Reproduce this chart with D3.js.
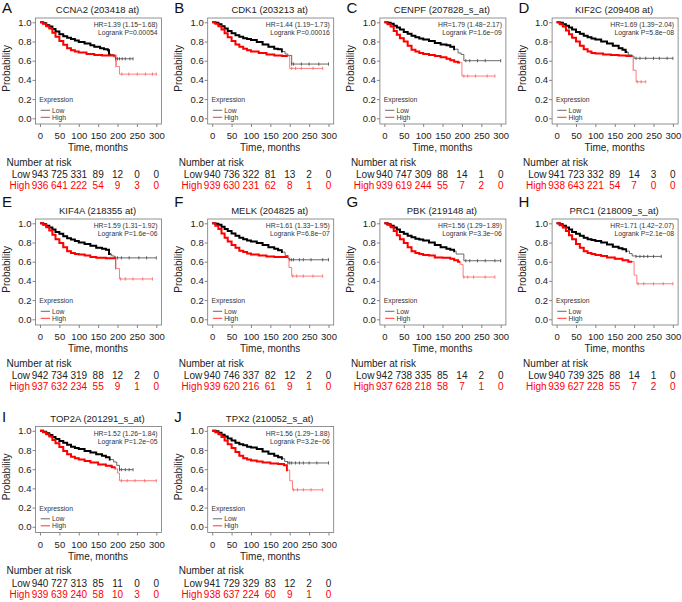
<!DOCTYPE html>
<html><head><meta charset="utf-8">
<script src="https://cdn.jsdelivr.net/npm/d3@7"></script>
<style>
body{margin:0;background:#fff}
svg{display:block}
text{font-family:"Liberation Sans",Arial,Helvetica,sans-serif}
</style>
</head><body>
<svg id="c" width="682" height="602"></svg>
<script>
// ---------- data ----------
const letters = ["A","B","C","D","E","F","G","H","I","J"];
const genes = ["CCNA2 (203418 at)","CDK1 (203213 at)","CENPF (207828_s_at)","KIF2C (209408 at)",
  "KIF4A (218355 at)","MELK (204825 at)","PBK (219148 at)","PRC1 (218009_s_at)",
  "TOP2A (201291_s_at)","TPX2 (210052_s_at)"];
const hrLabels = ["HR=1.39 (1.15\u22121.68)","HR=1.44 (1.19\u22121.73)","HR=1.79 (1.48\u22122.17)","HR=1.69 (1.39\u22122.04)",
  "HR=1.59 (1.31\u22121.92)","HR=1.61 (1.33\u22121.95)","HR=1.56 (1.29\u22121.89)","HR=1.71 (1.42\u22122.07)",
  "HR=1.52 (1.26\u22121.84)","HR=1.56 (1.29\u22121.88)"];
const pLabels = ["Logrank P=0.00054","Logrank P=0.00016","Logrank P=1.6e\u221209","Logrank P=5.8e\u221208",
  "Logrank P=1.6e\u221206","Logrank P=6.8e\u221207","Logrank P=3.3e\u221206","Logrank P=2.1e\u221208",
  "Logrank P=1.2e\u221205","Logrank P=3.2e\u221206"];
const timeTicks = [0,50,100,150,200,250,300];
const probTicks = [0,0.2,0.4,0.6,0.8,1.0];
const riskLow = [
  [943,725,331,89,12,0,0],[940,736,322,81,13,2,0],[940,747,309,88,14,1,0],[941,723,332,89,14,3,0],
  [942,734,319,88,12,2,0],[940,746,337,82,12,2,0],[942,738,335,85,14,2,0],[940,739,325,88,14,1,0],
  [940,727,313,85,11,0,0],[941,729,329,83,12,2,0]];
const riskHigh = [
  [936,641,222,54,9,3,0],[939,630,231,62,8,1,0],[939,619,244,55,7,2,0],[938,643,221,54,7,0,0],
  [937,632,234,55,9,1,0],[939,620,216,61,9,1,0],[937,628,218,58,7,1,0],[939,627,228,55,7,2,0],
  [939,639,240,58,10,3,0],[938,637,224,60,9,1,0]];

// survival step points [months, probability]
const lowCurves = [
  [[0,1],[8,0.99],[16,0.97],[24,0.955],[32,0.93],[40,0.905],[50,0.875],[60,0.855],[70,0.84],[80,0.825],[90,0.81],[100,0.795],[115,0.78],[130,0.76],[140,0.745],[155,0.73],[165,0.72],[175,0.71],[178,0.665],[190,0.64],[195,0.62],[240,0.62]],
  [[0,1],[8,0.995],[16,0.98],[24,0.96],[32,0.935],[40,0.91],[50,0.885],[60,0.865],[70,0.85],[80,0.835],[90,0.825],[100,0.815],[115,0.795],[130,0.77],[145,0.745],[160,0.725],[170,0.72],[180,0.695],[188,0.67],[195,0.655],[205,0.565],[300,0.565]],
  [[0,1],[8,0.995],[16,0.985],[24,0.965],[32,0.945],[40,0.925],[50,0.9],[60,0.88],[70,0.86],[80,0.845],[90,0.83],[100,0.82],[115,0.805],[130,0.785],[145,0.77],[160,0.76],[170,0.745],[180,0.72],[190,0.68],[198,0.665],[205,0.6],[300,0.6]],
  [[0,1],[8,0.995],[16,0.98],[24,0.965],[32,0.945],[40,0.925],[50,0.9],[60,0.88],[70,0.86],[80,0.845],[90,0.83],[100,0.82],[115,0.8],[130,0.78],[145,0.755],[160,0.73],[170,0.715],[178,0.69],[185,0.66],[195,0.645],[200,0.625],[300,0.625]],
  [[0,1],[8,0.99],[16,0.975],[24,0.955],[32,0.935],[40,0.91],[50,0.89],[60,0.865],[70,0.845],[80,0.83],[90,0.815],[100,0.8],[115,0.785],[130,0.765],[145,0.745],[160,0.735],[170,0.725],[178,0.68],[185,0.66],[192,0.64],[300,0.64]],
  [[0,1],[8,0.995],[16,0.985],[24,0.965],[32,0.94],[40,0.92],[50,0.895],[60,0.87],[70,0.85],[80,0.835],[90,0.82],[100,0.81],[115,0.795],[130,0.775],[145,0.75],[160,0.735],[170,0.72],[180,0.7],[188,0.665],[196,0.63],[200,0.62],[300,0.62]],
  [[0,1],[8,0.99],[16,0.975],[24,0.955],[32,0.935],[40,0.91],[50,0.89],[60,0.87],[70,0.855],[80,0.84],[90,0.83],[100,0.82],[115,0.8],[130,0.775],[145,0.75],[160,0.735],[170,0.725],[180,0.71],[185,0.68],[205,0.61],[300,0.61]],
  [[0,1],[8,0.99],[16,0.975],[24,0.955],[32,0.935],[40,0.91],[50,0.89],[60,0.87],[70,0.85],[80,0.835],[90,0.825],[100,0.815],[115,0.8],[130,0.78],[145,0.755],[160,0.74],[170,0.73],[180,0.71],[188,0.685],[195,0.66],[205,0.655],[270,0.655]],
  [[0,1],[8,0.99],[16,0.975],[24,0.955],[32,0.935],[40,0.915],[50,0.895],[60,0.875],[70,0.855],[80,0.835],[90,0.82],[100,0.81],[115,0.79],[130,0.775],[145,0.755],[160,0.74],[170,0.725],[180,0.7],[190,0.675],[198,0.64],[205,0.595],[240,0.595]],
  [[0,1],[8,0.995],[16,0.98],[24,0.96],[32,0.94],[40,0.92],[50,0.9],[60,0.875],[70,0.86],[80,0.85],[90,0.835],[100,0.825],[115,0.81],[130,0.785],[145,0.76],[160,0.74],[170,0.725],[180,0.71],[187,0.68],[195,0.665],[300,0.665]]
];
const highCurves = [
  [[0,1],[8,0.985],[16,0.96],[24,0.935],[32,0.89],[40,0.85],[50,0.805],[60,0.765],[70,0.73],[80,0.71],[90,0.695],[100,0.685],[120,0.67],[140,0.66],[160,0.655],[197,0.54],[205,0.46],[300,0.46]],
  [[0,1],[8,0.985],[16,0.96],[24,0.925],[32,0.885],[40,0.845],[50,0.805],[60,0.77],[70,0.745],[80,0.725],[90,0.71],[100,0.695],[120,0.68],[140,0.665],[160,0.655],[180,0.65],[200,0.52],[285,0.52]],
  [[0,1],[8,0.98],[16,0.955],[24,0.91],[32,0.87],[40,0.835],[50,0.8],[60,0.755],[70,0.715],[80,0.695],[90,0.68],[100,0.67],[115,0.66],[130,0.65],[145,0.635],[160,0.62],[170,0.605],[180,0.59],[190,0.58],[200,0.44],[285,0.44]],
  [[0,1],[8,0.98],[16,0.955],[24,0.915],[32,0.875],[40,0.84],[50,0.8],[60,0.755],[70,0.72],[80,0.695],[90,0.68],[100,0.675],[120,0.665],[140,0.66],[160,0.655],[180,0.65],[198,0.5],[205,0.38],[230,0.38]],
  [[0,1],[8,0.985],[16,0.96],[24,0.925],[32,0.88],[40,0.835],[50,0.795],[60,0.75],[70,0.71],[80,0.69],[90,0.68],[100,0.675],[115,0.665],[130,0.65],[145,0.64],[170,0.635],[196,0.53],[205,0.42],[290,0.42]],
  [[0,1],[8,0.975],[16,0.94],[24,0.895],[32,0.85],[40,0.81],[50,0.775],[60,0.745],[70,0.715],[80,0.7],[90,0.685],[100,0.675],[120,0.665],[140,0.655],[160,0.65],[180,0.65],[198,0.54],[205,0.45],[285,0.45]],
  [[0,1],[8,0.985],[16,0.96],[24,0.92],[32,0.875],[40,0.835],[50,0.795],[60,0.75],[70,0.71],[80,0.69],[90,0.68],[100,0.67],[115,0.665],[130,0.645],[150,0.64],[170,0.63],[180,0.615],[190,0.6],[197,0.57],[203,0.44],[285,0.44]],
  [[0,1],[8,0.98],[16,0.955],[24,0.92],[32,0.875],[40,0.835],[50,0.785],[60,0.745],[70,0.71],[80,0.69],[90,0.68],[100,0.67],[115,0.66],[130,0.645],[150,0.63],[170,0.615],[185,0.6],[200,0.46],[207,0.37],[300,0.37]],
  [[0,1],[8,0.985],[16,0.965],[24,0.94],[32,0.905],[40,0.87],[50,0.83],[60,0.79],[70,0.755],[80,0.73],[90,0.715],[100,0.7],[115,0.685],[130,0.67],[150,0.65],[170,0.635],[185,0.62],[195,0.605],[200,0.56],[205,0.48],[300,0.48]],
  [[0,1],[8,0.985],[16,0.965],[24,0.935],[32,0.9],[40,0.86],[50,0.82],[60,0.78],[70,0.74],[80,0.715],[90,0.7],[100,0.69],[115,0.68],[130,0.67],[150,0.66],[170,0.655],[185,0.64],[193,0.59],[200,0.48],[207,0.385],[285,0.385]]
];
// censoring marks on the sparse tails (months)
const lowCensor = [
  [195,200,205,212,220,232,240],[205,210,230,250,275,300],[210,220,240,260,300],[205,215,230,250,265,285,300],
  [195,200,210,230,255,275,300],[200,205,210,225,235,255,285,300],[210,220,240,260,285,300],[205,215,225,235,250,270],
  [205,210,220,230,240],[195,200,205,215,225,235,250,270,300]];
const highCensor = [
  [211,229,251,272,290,300],[205,215,230,260,285],[205,215,235,265,285],[208,218,230],
  [208,220,240,265,290],[208,218,235,260,285],[205,215,230,260,285],[210,225,250,275,300],
  [210,225,245,270,300],[210,220,235,255,285]];
const lowDenseEnd = 182, highDenseEnd = 195;

// ---------- layout ----------
const svg = d3.select("#c");
const colX = [0,172.2,344.4,516.6];
const rowY = [0,201,408.5];
const letterBase = [12.7,206.7,421.7];
const RED = "#ff0000";

genes.forEach((gene,i)=>{
  const col=i%4, row=Math.floor(i/4);
  const ox=colX[col], oy=rowY[row];
  const g = svg.append("g").attr("transform",`translate(${ox},${oy})`);
  const bx0=35.5,bx1=161.5,by0=18,by1=124;
  const x=d3.scaleLinear().domain([0,300]).range([40,156.3]);
  const y=d3.scaleLinear().domain([0,1]).range([118.3,22.3]);

  // letter
  svg.append("text").attr("x",ox+2).attr("y",letterBase[row]).attr("font-size",15).attr("fill","#111").text(letters[i]);
  // title
  g.append("text").attr("x",97.5).attr("y",13).attr("text-anchor","middle").attr("font-size",9.5).attr("fill","#222").text(gene);

  // axes
  const xa = g.append("g").attr("transform",`translate(0,${by1})`)
    .call(d3.axisBottom(x).tickValues(timeTicks).tickSize(3).tickPadding(5.5));
  const ya = g.append("g").attr("transform",`translate(${bx0},0)`)
    .call(d3.axisLeft(y).tickValues(probTicks).tickFormat(d3.format(".1f")).tickSize(3).tickPadding(1));
  [xa,ya].forEach(a=>{
    a.select(".domain").remove();
    a.selectAll("line").attr("stroke","#666").attr("stroke-width",0.8);
    a.selectAll("text").attr("font-size",9.5).attr("fill","#222").attr("font-family",'"Liberation Sans",Arial,sans-serif');
  });
  // box
  g.append("rect").attr("x",bx0).attr("y",by0).attr("width",bx1-bx0).attr("height",by1-by0)
    .attr("fill","none").attr("stroke","#777").attr("stroke-width",0.8);

  g.append("text").attr("transform",`translate(9.5,${y(0.5)-2}) rotate(-90)`).attr("text-anchor","middle")
    .attr("font-size",10).attr("fill","#222").text("Probability");
  g.append("text").attr("x",98).attr("y",151).attr("text-anchor","middle")
    .attr("font-size",10).attr("fill","#222").text("Time, months");

  // HR / p
  g.append("text").attr("x",157.5).attr("y",27).attr("text-anchor","end").attr("font-size",6.8).attr("fill","#333").text(hrLabels[i]);
  g.append("text").attr("x",157.5).attr("y",35).attr("text-anchor","end").attr("font-size",6.8).attr("fill","#333").text(pLabels[i]);

  // legend
  g.append("text").attr("x",39.3).attr("y",102.3).attr("font-size",6.8).attr("fill","#333").text("Expression");
  g.append("line").attr("x1",40.7).attr("x2",50).attr("y1",110.3).attr("y2",110.3).attr("stroke","#444").attr("stroke-width",0.8);
  g.append("line").attr("x1",40.7).attr("x2",50).attr("y1",117.3).attr("y2",117.3).attr("stroke",RED).attr("stroke-width",0.8);
  g.append("text").attr("x",52).attr("y",112.7).attr("font-size",6.8).attr("fill","#333").text("Low");
  g.append("text").attr("x",52).attr("y",119.7).attr("font-size",6.8).attr("fill","#333").text("High");

  // curves
  const line = d3.line().curve(d3.curveStepAfter).x(d=>x(d[0])).y(d=>y(d[1]));
  const stepAt = (pts,t)=>{ let v=pts[0][1]; for(const p of pts){ if(p[0]<=t) v=p[1]; } return v; };
  const series = [
    {pts:lowCurves[i], cens:lowCensor[i], dense:lowDenseEnd, thick:"#000", thin:"#444", id:"l"},
    {pts:highCurves[i], cens:highCensor[i], dense:highDenseEnd, thick:RED, thin:"#ff5a5a", id:"h"}
  ];
  series.forEach(s=>{
    const cid = `clip${i}${s.id}`;
    g.append("clipPath").attr("id",cid).append("rect")
      .attr("x",bx0).attr("y",by0).attr("width",x(s.dense)-bx0).attr("height",by1-by0);
    g.append("path").datum(s.pts).attr("d",line).attr("fill","none").attr("stroke",s.thin).attr("stroke-width",0.8);
    g.append("path").datum(s.pts).attr("d",line).attr("fill","none").attr("stroke",s.thick)
      .attr("stroke-width",2).attr("clip-path",`url(#${cid})`);
    g.selectAll(null).data(s.cens).enter().append("line")
      .attr("x1",d=>x(d)).attr("x2",d=>x(d))
      .attr("y1",d=>y(stepAt(s.pts,d))-1.6).attr("y2",d=>y(stepAt(s.pts,d))+1.6)
      .attr("stroke",s.thin).attr("stroke-width",0.8);
  });

  // number at risk
  g.append("text").attr("x",6.5).attr("y",165.7).attr("font-size",10).attr("fill","#222").text("Number at risk");
  g.append("text").attr("x",30).attr("y",178.3).attr("text-anchor","end").attr("font-size",10).attr("fill","#222").text("Low");
  g.append("text").attr("x",30).attr("y",189).attr("text-anchor","end").attr("font-size",10).attr("fill",RED).text("High");
  g.selectAll(null).data(riskLow[i]).enter().append("text")
    .attr("x",(d,k)=>x(timeTicks[k])).attr("y",178.3).attr("text-anchor","middle").attr("font-size",10).attr("fill","#222").text(d=>d);
  g.selectAll(null).data(riskHigh[i]).enter().append("text")
    .attr("x",(d,k)=>x(timeTicks[k])).attr("y",189).attr("text-anchor","middle").attr("font-size",10).attr("fill",RED).text(d=>d);
});
</script>
</body></html>
